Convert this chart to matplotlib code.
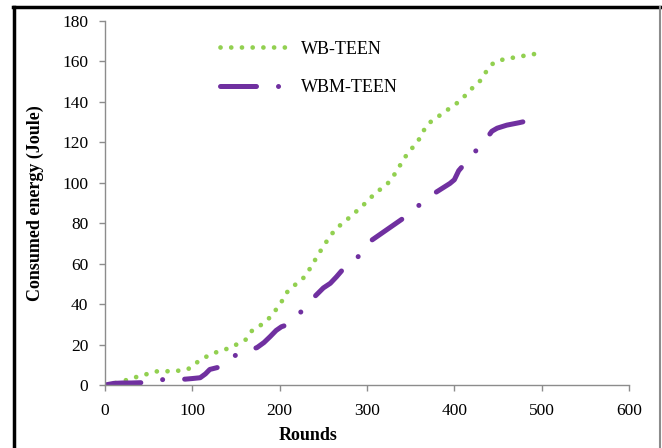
import numpy as np
import matplotlib.pyplot as plt
from matplotlib.lines import Line2D

plt.rcParams['font.family'] = ['Liberation Serif', 'DejaVu Serif']

# energy consumed per round
wb_rounds = [0, 12, 25, 37, 48, 60, 72, 85, 97, 106, 116, 128, 139, 151, 161, 168,
             178, 187, 195, 202, 207, 216, 226, 233, 239, 245, 251, 258, 265, 275,
             284, 293, 302, 310, 320, 328, 334, 341, 347, 355, 362, 367, 376, 386,
             395, 405, 414, 422, 431, 437, 445, 456, 469, 481, 492, 500]
wb_energy = [0, 1, 2.5, 4.1, 5.4, 6.8, 6.8, 7.1, 8.2, 11.4, 14, 16.3, 17.8, 20.1, 22.4, 26.7,
             29.5, 32.6, 36.8, 41, 45.3, 49, 52.3, 56.4, 60.7, 65.1, 69.2, 73.8, 77.5, 81,
             84.4, 87.9, 91.5, 95.3, 98, 101.7, 106, 110.8, 115, 118.7, 123, 127.7, 131.4, 134,
             137, 140, 143.8, 147.5, 151, 155.4, 159.4, 161, 162, 162.9, 163.7, 164]

wbm_rounds = [0, 10, 20, 30, 45, 68, 92, 100, 109, 115, 120, 132, 151, 174, 182, 189,
              196, 202, 208, 224, 240, 250, 258, 265, 271, 289, 303, 320, 340, 357,
              376, 395, 400, 405, 421, 437, 443, 449, 460, 474, 498]
wbm_energy = [0, 0.8, 1, 1, 1.2, 2.8, 2.9, 3.2, 3.6, 5.5, 7.7, 9, 15.2, 18.5, 21, 23.9,
              27, 28.8, 29.7, 36, 43.7, 48, 50.3, 53.5, 56.5, 63, 70.9, 76, 82, 88,
              94.5, 99.7, 101.5, 106, 114, 122, 125.5, 127, 128.5, 129.7, 132]

green = '#92D050'
purple = '#7030A0'
gray = '#8c8c8c'

fig = plt.figure(figsize=(6.62, 4.48), dpi=100)
ax = fig.add_axes([0.1586, 0.1406, 0.7916, 0.8125])

ax.plot(wb_rounds, wb_energy, color=green, lw=3.4, linestyle=(0, (0.01, 2.26)),
        dash_capstyle='round', label='WB-TEEN')
ax.plot(wbm_rounds, wbm_energy, color=purple, lw=3.6,
        linestyle=(0, (7.2, 4.4, 0.01, 4.4)), dash_capstyle='round', label='WBM-TEEN')

ax.set_xlim(0, 600)
ax.set_ylim(0, 180)
ax.set_xticks(np.arange(0, 601, 100))
ax.set_yticks(np.arange(0, 181, 20))

for side in ['top', 'right']:
    ax.spines[side].set_visible(False)
for side in ['left', 'bottom']:
    ax.spines[side].set_color(gray)
    ax.spines[side].set_linewidth(1)
ax.tick_params(direction='out', length=4, width=1, color=gray, labelsize=12.5)
ax.tick_params(axis='x', pad=9)
ax.tick_params(axis='y', pad=8)

ax.set_xlabel('Rounds', fontsize=13, fontweight='bold')
ax.set_ylabel('Consumed energy (Joule)', fontsize=13, fontweight='bold')
ax.xaxis.set_label_coords(0.387, -0.115)
ax.yaxis.set_label_coords(-0.116, 0.5)

ax.legend(loc='upper left', bbox_to_anchor=(0.219, 0.946), frameon=False,
          fontsize=13, handlelength=3.8, handletextpad=0.7, labelspacing=1.2,
          borderpad=0, borderaxespad=0)

# outer frame
fig.add_artist(Line2D([0.021, 0.021], [0, 0.985], transform=fig.transFigure,
                      color='black', lw=2.5))
fig.add_artist(Line2D([0.019, 0.997], [0.985, 0.985], transform=fig.transFigure,
                      color='black', lw=2.5))
fig.add_artist(Line2D([0.997, 0.997], [0, 0.985], transform=fig.transFigure,
                      color=gray, lw=1.5))

fig.savefig('out.png', dpi=100)
